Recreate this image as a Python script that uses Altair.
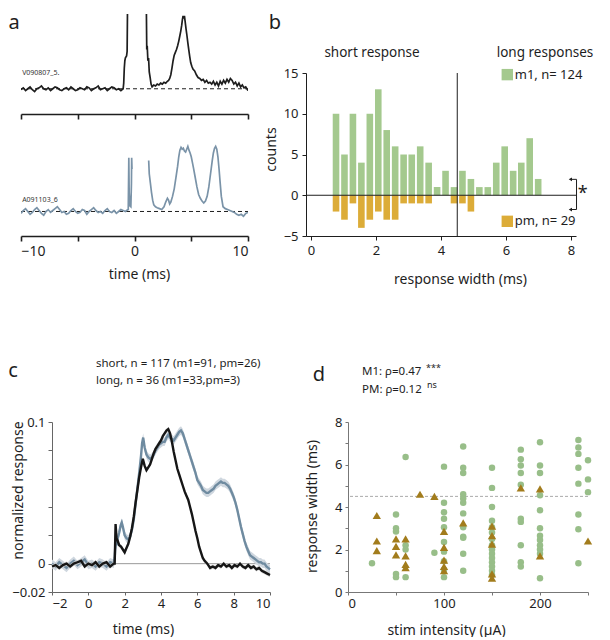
import altair as alt
import pandas as pd

FONT = "Noto Sans"
INK = "#1e1e1e"
GREEN_BAR = "#a4c98e"
YELLOW_BAR = "#dcac38"
GREEN_PT = "#98be89"
TRI = "#a27c1c"
LONG = "#6f8ba0"
LONG_BAND = "#cfd7df"
SHORT_BAND = "#d2d2d2"
A_BOT = "#7a93a8"

# ---------------- panel a : example traces (arbitrary units above baseline) ----
a_top_pre_v = [-1, 1, -2, 0, 2, -1, -3, 0, 1, 3, 0, -1, 1, -2, 0, 2, 1, -1, -2, 0,
               1, -1, 2, 0, -2, -1, 1, 0, -1, 2, 1, -2, 0, 1, 3, -1, 0, 1, -2, 0,
               2, 1, -1, 0, -2]
a_top_spike_t = [-1.0, -0.95, -0.9, -0.85, -0.8, -0.7, -0.65, -0.62]
a_top_spike_v = [0, 6, 22, 30, 33, 35, 40, 80]
a_top_late_t = [1.05, 1.08, 1.12, 1.18, 1.24, 1.3, 1.38, 1.46, 1.55, 1.7, 1.85, 2.0, 2.15,
                2.3, 2.45, 2.6, 2.75, 2.9, 3.0, 3.1, 3.2, 3.3, 3.4, 3.5, 3.6, 3.7, 3.8,
                3.9, 4.0, 4.08, 4.16, 4.22, 4.28, 4.34, 4.4, 4.46, 4.54, 4.62, 4.7, 4.78,
                4.86, 4.95, 5.05, 5.15, 5.3, 5.45, 5.6, 5.75, 5.9, 6.05, 6.2, 6.35, 6.5,
                6.65, 6.8, 6.95, 7.1, 7.25, 7.4, 7.55, 7.7, 7.85, 8.0, 8.15, 8.3, 8.45,
                8.6, 8.75, 8.9, 9.05, 9.2, 9.35, 9.5, 9.65, 9.8, 10.0]
a_top_late_v = [80, 42, 46, 30, 33, 18, 12, 5, 2, 4, 3, 5, 4,
                6, 5, 7, 6, 8, 9, 11, 15, 22, 30, 36, 39, 42, 46,
                51, 57, 62, 68, 74, 78, 75, 78, 72, 64, 57, 49, 42,
                35, 28, 24, 21, 19, 15, 12, 11, 9, 10, 7, 9, 6,
                7, 5, 8, 4, 7, 3, 8, 5, 9, 6, 10, 7, 11,
                9, 5, 7, 3, 6, 2, 4, 1, 2, -2]

a_bot_pre_v = [-2, 1, 3, 0, -3, -1, 2, 4, 1, -2, -4, 0, 2, -1, 1, 3, 5, 2, -1, 0,
               -3, -2, 1, 3, 0, -2, -1, 2, 1, -3, 0, 2, 4, 1, -1, 0, -2, 1, 3, 0,
               -1, 1, -2, 0, 2, 1, 0]
a_bot_spike_t = [-0.7, -0.55, -0.5, -0.47, -0.4, -0.32, -0.27, -0.25, -0.22]
a_bot_spike_v = [1, 2, 57, 20, 6, 5, 30, 57, 45]
a_bot_late_t = [1.25, 1.3, 1.4, 1.5, 1.6, 1.7, 1.85, 2.0, 2.2, 2.4, 2.6, 2.75, 2.9, 3.0,
                3.1, 3.2, 3.35, 3.5, 3.65, 3.8, 3.9, 4.0, 4.1, 4.2, 4.3, 4.4, 4.5, 4.6,
                4.7, 4.8, 4.9, 5.0, 5.1, 5.2, 5.35, 5.5, 5.65, 5.8, 5.95, 6.1, 6.25,
                6.4, 6.55, 6.7, 6.85, 6.95, 7.05, 7.15, 7.25, 7.35, 7.45, 7.55, 7.65,
                7.8, 8.0, 8.2, 8.4, 8.6, 8.8, 9.0, 9.2, 9.4, 9.6, 9.8, 10.0]
a_bot_late_v = [54, 40, 30, 20, 12, 7, 5, 4, 3, 2, 5, 10, 14, 12,
                8, 10, 16, 24, 36, 48, 58, 65, 68, 66, 67, 64, 63, 66,
                69, 65, 62, 58, 52, 46, 36, 26, 18, 14, 11, 9, 11,
                16, 26, 40, 54, 62, 67, 69, 66, 58, 45, 30, 16,
                5, 3, 2, 1, 0, -1, -3, -4, -3, -5, -2, -1]

# ---------------- panel b : histogram of response widths ----------------
b_centers = [0.77, 1.03, 1.29, 1.55, 1.81, 2.07, 2.33, 2.59, 2.85, 3.10, 3.36, 3.62, 3.88,
             4.14, 4.40, 4.66, 4.92, 5.18, 5.44, 5.70, 5.96, 6.22, 6.47, 6.73, 6.99]
b_m1 = [10, 5, 10, 4, 10, 13, 8, 6, 5, 5, 6, 4, 1, 3, 1, 3, 2, 1, 1, 4, 6, 3, 4, 7, 2]
b_pm = [-2, -3, -1, -4, -3, -2, -3, -3, -1, -1, -1, -1, 0, 0, -1, -1, -2, 0, 0, 0, 0, 0, 0, 0, 0]
b_bracket_x = [7.98, 8.17, 8.17, 7.98]
b_bracket_y = [1.95, 1.95, -1.75, -1.75]

# ---------------- panel c : average responses ----------------
c_pre_t = [-2.0, -1.8, -1.6, -1.4, -1.2, -1.0, -0.8, -0.6, -0.4, -0.2, 0.0, 0.2, 0.4, 0.6,
           0.8, 1.0, 1.2, 1.4]
c_short_pre = [-0.002, -0.001, -0.003, -0.001, 0.000, -0.002, 0.000, 0.001, 0.002, -0.002,
               0.000, -0.001, 0.001, -0.002, 0.000, 0.001, -0.002, 0.000]
c_long_pre = [0.000, -0.002, 0.001, -0.001, -0.003, 0.000, 0.002, -0.001, 0.001, 0.003,
              -0.001, 0.000, -0.002, 0.001, 0.000, -0.002, 0.001, 0.000]
c_short_t = [1.45, 1.5, 1.55, 1.62, 1.7, 1.8, 1.9, 2.0, 2.1, 2.2, 2.3, 2.4, 2.5, 2.6, 2.7,
             2.8, 2.9, 3.0, 3.1, 3.2, 3.3, 3.4, 3.5, 3.6, 3.7, 3.8, 3.9, 4.0, 4.1, 4.2,
             4.3, 4.4, 4.5, 4.6, 4.7, 4.8, 4.9, 5.0, 5.1, 5.2, 5.3, 5.4, 5.5, 5.6, 5.7,
             5.8, 5.9, 6.0, 6.1, 6.2, 6.3, 6.4, 6.55, 6.7, 6.85, 7.0, 7.15, 7.3, 7.45,
             7.6, 7.75, 7.9, 8.05, 8.2, 8.35, 8.5, 8.65, 8.8, 8.95, 9.1, 9.25, 9.4, 9.55,
             9.7, 9.85, 10.0]
c_short_v = [0.000, 0.028, 0.018, 0.016, 0.013, 0.012, 0.010, 0.008, 0.011, 0.014, 0.019,
             0.025, 0.033, 0.043, 0.052, 0.061, 0.068, 0.074, 0.069, 0.066, 0.068, 0.070,
             0.074, 0.078, 0.081, 0.083, 0.085, 0.087, 0.090, 0.092, 0.094, 0.095, 0.092,
             0.086, 0.079, 0.073, 0.067, 0.063, 0.059, 0.055, 0.051, 0.048, 0.045, 0.040,
             0.035, 0.029, 0.023, 0.018, 0.012, 0.008, 0.004, 0.002, 0.000, -0.003, -0.002,
             -0.003, -0.001, -0.002, 0.000, -0.002, -0.001, -0.003, -0.001, -0.002, 0.000,
             -0.002, -0.003, -0.001, -0.003, -0.002, -0.004, -0.003, -0.005, -0.006, -0.007,
             -0.008]
c_long_t = [1.45, 1.5, 1.55, 1.62, 1.7, 1.78, 1.84, 1.9, 2.0, 2.1, 2.2, 2.3, 2.4, 2.5, 2.6,
            2.7, 2.8, 2.9, 2.96, 3.02, 3.1, 3.2, 3.3, 3.4, 3.5, 3.6, 3.7, 3.8, 3.9, 4.0,
            4.1, 4.2, 4.3, 4.4, 4.5, 4.6, 4.7, 4.8, 4.9, 5.0, 5.1, 5.2, 5.3, 5.4, 5.5,
            5.6, 5.7, 5.8, 5.9, 6.0, 6.1, 6.2, 6.3, 6.4, 6.5, 6.6, 6.7, 6.8, 6.9, 7.0,
            7.1, 7.2, 7.3, 7.4, 7.5, 7.6, 7.7, 7.8, 7.9, 8.0, 8.1, 8.2, 8.3, 8.4, 8.5,
            8.6, 8.7, 8.8, 8.9, 9.0, 9.1, 9.2, 9.3, 9.4, 9.5, 9.6, 9.7, 9.8, 9.9, 10.0]
c_long_v = [0.004, 0.015, 0.013, 0.018, 0.022, 0.027, 0.029, 0.026, 0.020, 0.018, 0.017,
            0.019, 0.024, 0.031, 0.042, 0.053, 0.064, 0.076, 0.085, 0.089, 0.082, 0.077,
            0.075, 0.074, 0.075, 0.077, 0.080, 0.082, 0.084, 0.085, 0.086, 0.086, 0.089,
            0.091, 0.089, 0.088, 0.087, 0.089, 0.091, 0.093, 0.094, 0.092, 0.088, 0.084,
            0.080, 0.076, 0.072, 0.068, 0.064, 0.059, 0.057, 0.055, 0.052, 0.051, 0.050,
            0.050, 0.051, 0.052, 0.053, 0.055, 0.056, 0.057, 0.058, 0.057, 0.057, 0.056,
            0.055, 0.053, 0.050, 0.047, 0.043, 0.038, 0.032, 0.026, 0.021, 0.016, 0.012,
            0.009, 0.006, 0.005, 0.004, 0.003, 0.002, 0.001, 0.001, 0.000, 0.000, -0.002,
            -0.003, -0.004]
c_short_sem = 0.0015
c_long_sem = 0.003

# ---------------- panel d : width vs stimulus intensity ----------------
d_m1_x = [25, 50, 60, 90, 100, 120, 150, 180, 200, 240, 250]
d_m1_w = [[1.35],
          [3.65, 3.0, 2.85, 0.85, 0.7],
          [6.35, 2.2, 2.0, 0.7],
          [1.85],
          [5.9, 4.2, 3.75, 3.45, 3.05, 2.35, 1.9, 1.45, 1.05, 0.7],
          [6.85, 5.85, 5.6, 4.6, 4.4, 4.2, 3.7, 3.05, 2.6, 2.55, 1.8, 1.0],
          [5.85, 4.9, 4.0, 3.35, 3.05, 2.8, 2.5, 2.2, 2.0, 1.8, 1.6, 1.4, 1.2, 1.0, 0.8],
          [6.7, 6.25, 5.95, 5.6, 5.05, 3.45, 3.3, 2.2, 1.4, 1.2],
          [7.05, 5.95, 5.6, 4.55, 3.85, 3.0, 2.65, 2.45, 2.2, 2.0, 1.8, 0.65],
          [7.15, 6.8, 6.5, 5.85, 5.1, 3.65, 2.95, 1.35],
          [6.2, 5.3, 4.7]]
d_pm_x = [30, 50, 60, 75, 90, 100, 120, 150, 180, 200, 250]
d_pm_w = [[3.6, 2.4, 1.95],
          [2.5, 2.15, 1.75],
          [2.5, 1.7, 1.3, 1.15],
          [4.6],
          [4.5],
          [2.85, 2.1, 1.5, 1.2, 1.0],
          [3.25],
          [3.1, 2.65, 2.25, 0.85, 0.65],
          [4.9],
          [4.85, 1.7],
          [2.4]]


# ---------------- helpers ----------------
def note(txt, x, y, size=13, align="left", color=INK, baseline="middle"):
    return alt.Chart(pd.DataFrame({"s": [txt]})).mark_text(
        align=align, baseline=baseline, fontSize=size, color=color, font=FONT
    ).encode(x=alt.value(x), y=alt.value(y), text="s:N")


def spacer(w, h):
    return alt.Chart(pd.DataFrame({"s": [""]})).mark_text(opacity=0).encode(
        x=alt.value(0), y=alt.value(0), text="s:N").properties(width=w, height=h)


def trace_df(pre_v, spike_t, spike_v, late_t, late_v):
    pre_t = [round(-10 + 0.2 * i, 2) for i in range(len(pre_v))]
    rows = [{"t": t, "v": v, "seg": 1} for t, v in zip(pre_t + spike_t, pre_v + spike_v)]
    rows += [{"t": t, "v": v, "seg": 2} for t, v in zip(late_t, late_v)]
    return pd.DataFrame(rows)


# ---------------- panel a ----------------
A_W, A_H = 227, 100
df_top = trace_df(a_top_pre_v, a_top_spike_t, a_top_spike_v, a_top_late_t, a_top_late_v)
df_bot = trace_df(a_bot_pre_v, a_bot_spike_t, a_bot_spike_v, a_bot_late_t, a_bot_late_v)
df_base = pd.DataFrame({"t": [-10], "t2": [10], "v": [0]})

ax_top = alt.Axis(values=[-10, -5, 0, 5, 10], labels=False, title=None, domainWidth=1.6,
                  tickWidth=1.6, tickSize=5, domainColor=INK, tickColor=INK)
ax_bot = alt.Axis(values=[-10, -5, 0, 5, 10], labelExpr="datum.value % 10 === 0 ? datum.label : ''",
                  title="time (ms)", titleX=118, titleY=38, titleBaseline="middle",
                  domainWidth=1.6, tickWidth=1.6, tickSize=5, domainColor=INK, tickColor=INK,
                  labelFontSize=14, labelPadding=3)
xs_a = alt.Scale(domain=[-10, 10], nice=False)


def a_panel(df, axis, ydom, color, label, label_v, extra):
    X = alt.X("t:Q", scale=xs_a, axis=axis)
    Y = alt.Y("v:Q", scale=alt.Scale(domain=ydom, nice=False, zero=False), axis=None)
    base = alt.Chart(df_base).mark_rule(strokeDash=[4, 3], color=INK, strokeWidth=1).encode(
        x=X, x2="t2:Q", y=Y)
    line = alt.Chart(df).mark_line(color=color, strokeWidth=1.7, clip=True).encode(
        x=X, y=Y, detail="seg:N")
    lab = alt.Chart(pd.DataFrame({"t": [-9.9], "v": [label_v], "s": [label]})).mark_text(
        align="left", baseline="bottom", fontSize=7, color="#333", font=FONT
    ).encode(x=X, y=Y, text="s:N")
    return alt.layer(base, line, lab, *extra).properties(width=A_W, height=A_H)


a_top = a_panel(df_top, ax_top, [-27, 80], INK, "V090807_5.", 14,
                [note("a", -7, 9, size=20, align="center")])
a_bot = a_panel(df_bot, ax_bot, [-26, 80], A_BOT, "A091103_6", 9, [])
col_a = alt.vconcat(a_top, a_bot, spacing=22, bounds="flush")

# ---------------- panel b ----------------
B_W, B_H = 270, 163
df_b = pd.DataFrame({"t": b_centers, "m1": b_m1, "pm": b_pm})
xb_scale = alt.Scale(domain=[0, 8], nice=False)
xb = alt.X("t:Q", scale=xb_scale,
           axis=alt.Axis(values=list(range(9)), tickSize=4, labelPadding=4,
                         title="response width (ms)", titleX=154, titleY=43,
                         titleBaseline="middle", domainColor=INK, tickColor=INK))
yb_axis = alt.Axis(values=[-5, 0, 5, 10, 15], tickSize=4, labelPadding=4, title="counts",
                   titleX=-35, titleY=76, titleAngle=-90, titleBaseline="middle",
                   titleAlign="center", domainColor=INK, tickColor=INK)
yb_scale = alt.Scale(domain=[-5, 15], nice=False)


def yb(field):
    return alt.Y(field, scale=yb_scale, axis=yb_axis)


b_green = alt.Chart(df_b).mark_bar(size=6.6, color=GREEN_BAR).encode(x=xb, y=yb("m1:Q"))
b_yel = alt.Chart(df_b).mark_bar(size=6.6, color=YELLOW_BAR).encode(x=xb, y=yb("pm:Q"))
b_h0 = alt.Chart(pd.DataFrame({"v": [0]})).mark_rule(color=INK, strokeWidth=1).encode(y=yb("v:Q"))
b_v45 = alt.Chart(pd.DataFrame({"t": [4.5]})).mark_rule(color=INK, strokeWidth=1).encode(x=xb)
df_br = pd.DataFrame({"t": b_bracket_x, "v": b_bracket_y, "o": [0, 1, 2, 3]})
b_br = alt.Chart(df_br).mark_line(color=INK, strokeWidth=1, clip=False).encode(
    x=xb, y=yb("v:Q"), order="o:Q")
b_arrow = alt.Chart(df_br[df_br["o"].isin([0, 3])]).mark_point(
    shape="triangle-left", filled=True, color=INK, size=14, opacity=1).encode(x=xb, y=yb("v:Q"))
df_leg = pd.DataFrame({"t": [6.04, 6.04], "v": [14.8, -3.2], "tt": [6.27, 6.27],
                       "s": ["m1, n= 124", "pm, n= 29"], "g": ["m1", "pm"]})
b_sq = alt.Chart(df_leg).mark_square(size=130, opacity=1).encode(
    x=xb, y=yb("v:Q"),
    color=alt.Color("g:N", scale=alt.Scale(domain=["m1", "pm"], range=[GREEN_BAR, YELLOW_BAR]),
                    legend=None))
b_legtxt = alt.Chart(df_leg).mark_text(align="left", baseline="middle", fontSize=13,
                                        color=INK, font=FONT).encode(
    x=alt.X("tt:Q", scale=xb_scale), y=yb("v:Q"), text="s:N")
df_star = pd.DataFrame({"t": [8.36], "v": [0.1], "s": ["*"]})
b_star = alt.Chart(df_star).mark_text(fontSize=18, color=INK, font=FONT, baseline="middle").encode(
    x=xb, y=yb("v:Q"), text="s:N")
panel_b = alt.layer(
    b_green, b_yel, b_h0, b_v45, b_br, b_arrow, b_sq, b_legtxt, b_star,
    note("short response", 66, -20, size=13.5, align="center"),
    note("long responses", 239, -20, size=13.5, align="center"),
    note("b", -31, -50, size=20, align="center"),
).properties(width=B_W, height=B_H)
col_b = alt.vconcat(spacer(B_W, 1), panel_b, spacing=58, bounds="flush")

row1 = alt.hconcat(col_a, col_b, spacing=15)

# ---------------- panel c ----------------
C_W, C_H = 218, 170
df_cs = pd.DataFrame({"t": c_pre_t + c_short_t, "v": c_short_pre + c_short_v})
df_cl = pd.DataFrame({"t": c_pre_t + c_long_t, "v": c_long_pre + c_long_v})
xc = alt.X("t:Q", scale=alt.Scale(domain=[-2, 10], nice=False),
           axis=alt.Axis(values=[-2, 0, 2, 4, 6, 8, 10], tickSize=3, labelPadding=2,
                         title="time (ms)", titleX=91, titleY=37, titleBaseline="middle",
                         domainColor="#666", tickColor="#666"))
yc_axis = alt.Axis(values=[-0.02, 0, 0.02, 0.04, 0.06, 0.08, 0.1], tickSize=4, labelPadding=3,
                   labelExpr="abs(datum.value-0.1)<1e-9 ? '0.1' : abs(datum.value)<1e-9 ? '0' : abs(datum.value+0.02)<1e-9 ? '\u22120.02' : ''",
                   title="normalized response", titleX=-34, titleY=68, titleAngle=-90,
                   titleBaseline="middle", titleAlign="center", domainColor="#666", tickColor="#666")
yc_scale = alt.Scale(domain=[-0.02, 0.1], nice=False)


def yc(field):
    return alt.Y(field, scale=yc_scale, axis=yc_axis)


c_zero = alt.Chart(pd.DataFrame({"v": [0]})).mark_rule(color="#9a9a9a", strokeWidth=1).encode(y=yc("v:Q"))
c_lband = alt.Chart(df_cl).transform_calculate(
    lo=f"datum.v - {c_long_sem}", hi=f"datum.v + {c_long_sem}"
).mark_area(color=LONG_BAND, opacity=1).encode(x=xc, y=yc("lo:Q"), y2="hi:Q")
c_sband = alt.Chart(df_cs).transform_calculate(
    lo=f"datum.v - {c_short_sem}", hi=f"datum.v + {c_short_sem}"
).mark_area(color=SHORT_BAND, opacity=0.9).encode(x=xc, y=yc("lo:Q"), y2="hi:Q")
c_lline = alt.Chart(df_cl).mark_line(color=LONG, strokeWidth=2.4).encode(x=xc, y=yc("v:Q"))
c_sline = alt.Chart(df_cs).mark_line(color="#161616", strokeWidth=2.4).encode(x=xc, y=yc("v:Q"))
panel_c = alt.layer(
    c_zero, c_lband, c_lline, c_sband, c_sline,
    note("short, n = 117 (m1=91, pm=26)", 44, -58, size=11.5),
    note("long, n = 36 (m1=33,pm=3)", 44, -41, size=11.5),
    note("c", -39, -51, size=20, align="center"),
).properties(width=C_W, height=C_H)

# ---------------- panel d ----------------
D_W, D_H = 240, 170
df_m1 = pd.DataFrame([{"x": x, "w": w} for x, ws in zip(d_m1_x, d_m1_w) for w in ws])
df_pm = pd.DataFrame([{"x": x, "w": w} for x, ws in zip(d_pm_x, d_pm_w) for w in ws])
xd = alt.X("x:Q", scale=alt.Scale(domain=[0, 250], nice=False),
           axis=alt.Axis(values=[0, 50, 100, 150, 200, 250], tickSize=3, labelPadding=2,
                         labelExpr="datum.value % 100 === 0 ? datum.label : ''",
                         title="stim intensity (\u00b5A)", titleX=98, titleY=38,
                         titleBaseline="middle", domainColor="#777", tickColor="#777"))
yd = alt.Y("w:Q", scale=alt.Scale(domain=[0, 8], nice=False),
           axis=alt.Axis(values=list(range(9)), tickSize=3, labelPadding=3,
                         labelExpr="datum.value % 2 === 0 ? datum.label : ''",
                         title="response width (ms)", titleX=-36, titleY=84, titleAngle=-90,
                         titleBaseline="middle", titleAlign="center",
                         domainColor="#777", tickColor="#777"))
d_dash = alt.Chart(pd.DataFrame({"w": [4.5]})).mark_rule(
    color="#aaaaaa", strokeDash=[3, 2], strokeWidth=1).encode(y=yd)
d_m1 = alt.Chart(df_m1).mark_circle(size=42, color=GREEN_PT, opacity=1).encode(x=xd, y=yd)
d_pm = alt.Chart(df_pm).mark_point(shape="triangle-up", filled=True, size=70, color=TRI,
                                   opacity=1).encode(x=xd, y=yd)
panel_d = alt.layer(
    d_dash, d_m1, d_pm,
    note("M1: \u03c1=0.47", 14, -50, size=11.5),
    note("***", 78, -54, size=9),
    note("PM: \u03c1=0.12", 14, -32, size=11.5),
    note("ns", 79, -37, size=9),
    note("d", -29, -47, size=20, align="center"),
).properties(width=D_W, height=D_H)

row2_inner = alt.hconcat(panel_c, panel_d, spacing=78, bounds="flush")
row2 = alt.hconcat(spacer(1, 1), row2_inner, spacing=30, bounds="flush")

chart = alt.vconcat(row1, row2, spacing=72).properties(padding=0).configure_axis(
    labelFont=FONT, titleFont=FONT, grid=False, labelColor=INK, titleColor=INK,
    titleFontWeight="normal", labelFontSize=13, titleFontSize=14
).configure_view(strokeWidth=0).configure_text(font=FONT)

chart.save("out.html", embed_options={"renderer": "svg", "actions": False})
